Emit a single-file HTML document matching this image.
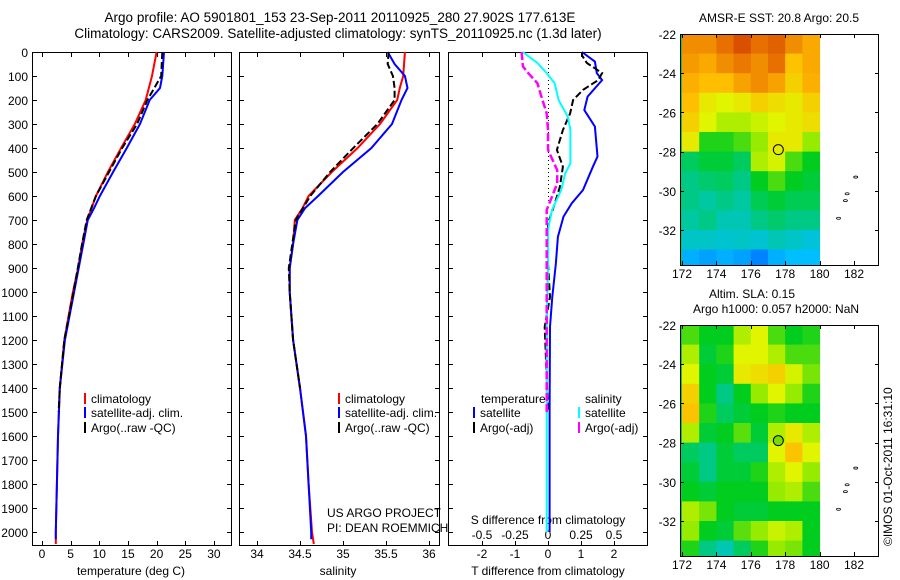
<!DOCTYPE html>
<html><head><meta charset="utf-8"><style>
html,body{margin:0;padding:0;background:#fff;}
svg{display:block;font-family:"Liberation Sans",sans-serif;}
</style></head><body>
<svg id="fig" width="900" height="580" viewBox="0 0 900 580">
<text x="340" y="22" font-size="13.5" text-anchor="middle">Argo profile: AO 5901801_153 23-Sep-2011 20110925_280 27.902S 177.613E</text>
<text x="338" y="38" font-size="13.5" text-anchor="middle">Climatology: CARS2009. Satellite-adjusted climatology: synTS_20110925.nc (1.3d later)</text>
<text x="779" y="22" font-size="12" text-anchor="middle">AMSR-E SST: 20.8 Argo: 20.5</text>
<text x="752" y="298" font-size="12" text-anchor="middle">Altim. SLA: 0.15</text>
<text x="776" y="313" font-size="12" text-anchor="middle">Argo h1000: 0.057 h2000: NaN</text>
<text transform="translate(892,546) rotate(-90)" font-size="12">©IMOS 01-Oct-2011 16:31:10</text>
<text x="131" y="575" font-size="12" text-anchor="middle">temperature (deg C)</text>
<text x="338" y="575" font-size="12" text-anchor="middle">salinity</text>
<text x="548" y="575" font-size="12" text-anchor="middle">T difference from climatology</text>
<text x="548" y="524" font-size="12" text-anchor="middle">S difference from climatology</text>
<text x="327" y="517" font-size="12">US ARGO PROJECT</text>
<text x="327" y="532" font-size="12">PI: DEAN ROEMMICH</text>
</svg>
<script>
// ---------- data ----------
const depthTicks=[0,100,200,300,400,500,600,700,800,900,1000,1100,1200,1300,1400,1500,1600,1700,1800,1900,2000];
const tempTicks=[0,5,10,15,20,25,30];
const salTicks=[34,34.5,35,35.5,36];
const salTickLabels=["34","34.5","35","35.5","36"];
const tdiffTicks=[-2,-1,0,1,2];
const sdiffTicks=[-0.5,-0.25,0,0.25,0.5];
const sdiffTickLabels=["-0.5","-0.25","0","0.25","0.5"];

const tClimDepth=[0,100,200,300,400,500,600,700,800,900,1000,1200,1400,1600,1800,2000,2050];
const tClim=[20.0,19.2,18.1,16.2,13.8,11.5,9.4,7.9,7.0,6.3,5.4,3.9,3.1,2.8,2.6,2.4,2.4];
const tSatDepth=[0,100,150,200,300,400,500,600,650,700,800,1000,1200,1400,1600,1800,2000,2030];
const tSat=[21.3,21.0,20.6,18.8,17.1,14.8,12.4,10.1,9.1,8.0,7.2,5.6,4.0,3.1,2.8,2.6,2.4,2.4];
const tArgoDepth=[0,100,200,300,400,500,600,700,800,1000,1200,1400,1500];
const tArgo=[21.0,20.8,18.4,16.6,14.0,11.7,9.4,7.8,7.0,5.5,3.9,3.1,2.9];

const sClimDepth=[0,100,150,200,300,400,500,600,650,700,800,900,1000,1200,1400,1600,1800,2000,2050];
const sClim=[35.72,35.70,35.66,35.63,35.43,35.17,34.87,34.60,34.53,34.44,34.42,34.38,34.38,34.42,34.50,34.57,34.60,34.64,34.66];
const sSatDepth=[0,50,100,150,200,300,400,500,600,650,700,800,900,1000,1200,1400,1600,1800,2000,2030];
const sSat=[35.52,35.60,35.72,35.75,35.68,35.57,35.33,35.00,34.71,34.56,34.47,34.42,34.38,34.38,34.42,34.50,34.57,34.60,34.63,34.63];
const sArgoDepth=[0,50,100,150,200,250,300,400,500,600,700,800,900,1000,1200,1400];
const sArgo=[35.53,35.52,35.58,35.60,35.60,35.50,35.40,35.12,34.85,34.62,34.45,34.41,34.37,34.38,34.42,34.50];

const dTSatDepth=[0,40,88,117,186,242,311,436,478,575,630,686,770,880,1020,1145,1500,2000];
const dTSat=[1.03,1.42,1.48,1.64,1.2,1.1,1.42,1.5,1.36,1.06,0.72,0.47,0.3,0.24,0.13,0.06,0.05,0.05];
const dTArgoDepth=[0,14,46,88,117,158,200,256,325,408,478,561,630,714,880,1020,1145,1500];
const dTArgo=[1.03,1.03,1.18,1.64,1.52,1.06,0.76,0.67,0.45,0.27,0.45,0.36,0.21,0.0,0.0,0.06,-0.1,0.0];
const dSSatDepth=[0,46,88,130,200,270,325,464,506,575,658,742,880,1145,1500,2000];
const dSSat=[-0.19,-0.08,-0.01,0.05,0.08,0.15,0.17,0.17,0.13,0.1,0.03,0.0,0.0,-0.01,-0.01,-0.01];
const dSArgoDepth=[0,60,88,130,186,256,325,408,492,547,603,658,742,1145,1500];
const dSArgo=[-0.2,-0.19,-0.15,-0.08,-0.05,-0.01,0.0,0.0,0.07,0.07,0.03,-0.01,-0.01,-0.01,-0.01];

const mapLonTicks=[172,174,176,178,180,182];
const mapLatTicks=[-22,-24,-26,-28,-30,-32];
const gridLon=[172,173,174,175,176,177,178,179];
const gridLat=[-22,-23,-24,-25,-26,-27,-28,-29,-30,-31,-32,-33];
const sstGrid=[
[0.82,0.82,0.86,0.9,0.86,0.88,0.82,0.78],
[0.8,0.78,0.82,0.85,0.82,0.86,0.74,0.78],
[0.77,0.75,0.75,0.79,0.82,0.79,0.72,0.77],
[0.75,0.68,0.66,0.68,0.72,0.7,0.68,0.72],
[0.72,0.66,0.62,0.62,0.64,0.66,0.68,0.7],
[0.68,0.52,0.52,0.55,0.6,0.68,0.68,0.6],
[0.45,0.48,0.48,0.45,0.62,0.65,0.55,0.5],
[0.42,0.44,0.45,0.42,0.5,0.55,0.5,0.48],
[0.42,0.4,0.42,0.4,0.46,0.48,0.46,0.46],
[0.4,0.42,0.38,0.38,0.42,0.44,0.42,0.42],
[0.36,0.36,0.35,0.36,0.35,0.38,0.36,0.34],
[0.28,0.26,0.28,0.26,0.22,0.28,0.3,0.3]];
const slaGrid=[
[0.55,0.5,0.5,0.62,0.66,0.55,0.5,0.52],
[0.62,0.48,0.52,0.66,0.66,0.62,0.55,0.55],
[0.66,0.5,0.48,0.68,0.7,0.72,0.65,0.58],
[0.72,0.5,0.42,0.5,0.6,0.66,0.6,0.52],
[0.74,0.52,0.45,0.48,0.5,0.52,0.5,0.5],
[0.62,0.48,0.5,0.56,0.48,0.62,0.68,0.62],
[0.45,0.42,0.48,0.45,0.45,0.66,0.74,0.66],
[0.48,0.42,0.48,0.48,0.52,0.62,0.66,0.6],
[0.5,0.48,0.5,0.5,0.5,0.6,0.62,0.55],
[0.62,0.58,0.5,0.48,0.48,0.5,0.5,0.5],
[0.6,0.5,0.48,0.56,0.6,0.64,0.62,0.5],
[0.52,0.42,0.38,0.45,0.52,0.6,0.58,0.5]];
const argoLon=177.6, argoLat=-27.9;
const islandLon=[182.1,181.6,181.5,181.1];
const islandLat=[-29.3,-30.15,-30.5,-31.4];

// ---------- helpers ----------
const svg=document.getElementById('fig');
const NS='http://www.w3.org/2000/svg';
function mk(tag,attrs,parent){const e=document.createElementNS(NS,tag);for(const k in attrs)e.setAttribute(k,attrs[k]);(parent||svg).appendChild(e);return e;}
function txt(x,y,s,size,anchor,parent){const t=mk('text',{x:x,y:y,'font-size':size,'text-anchor':anchor},parent);t.textContent=s;return t;}
const yTop=52, yPer=0.24, yBot=545;
const yD=d=>yTop+d*yPer;
const xT=v=>42+v*5.73;
const xS=v=>257+(v-34)*86;
const xDT=v=>548+v*33;
const xDS=v=>548+v*132;

function panel(x0,x1,name){
  const g=mk('g',{});
  
  
  mk('rect',{x:x0+0.5,y:yTop+0.5,width:x1-x0,height:yBot-yTop,fill:'none',stroke:'#000','stroke-width':1},g);
  depthTicks.forEach(d=>{mk('line',{x1:x0,x2:x0+5,y1:yD(d)+0.5,y2:yD(d)+0.5,stroke:'#000'},g);mk('line',{x1:x1-4,x2:x1+1,y1:yD(d)+0.5,y2:yD(d)+0.5,stroke:'#000'},g);});
  return g;
}
function xticks(g,ticks,labels,fx,ly){
  ticks.forEach((v,i)=>{const x=Math.round(fx(v))+0.5;
    mk('line',{x1:x,x2:x,y1:yTop,y2:yTop+5,stroke:'#000'},g);
    mk('line',{x1:x,x2:x,y1:yBot-4,y2:yBot+1,stroke:'#000'},g);
    if(ly)txt(fx(v),ly,labels[i],12,'middle',g);});
}
function line(g,ds,vs,fx,color,w,dash,name){
  const p=mk('polyline',{points:ds.map((d,i)=>fx(vs[i]).toFixed(1)+','+yD(d).toFixed(1)).join(' '),fill:'none',stroke:color,'stroke-width':w},g);
  if(dash)p.setAttribute('stroke-dasharray',dash);
  
  
}
function legend(g,x,y,color,label,name){
  const e=mk('g',{},g);
  
  
  mk('rect',{x:x,y:y-10,width:2,height:11,fill:color},e);
  txt(x+7,y,label,12,'start',e);
}

// ---------- panel 1: temperature ----------
const p1=panel(32,231,'temperature-panel');
depthTicks.forEach(d=>{const t=txt(28,yD(d)+5,String(d),12,'end',svg);});
xticks(p1,tempTicks,tempTicks.map(String),xT,558);
line(p1,tClimDepth,tClim,xT,'#f00',2,null,'temp-climatology-line');
line(p1,tSatDepth,tSat,xT,'#00f',2,null,'temp-satellite-line');
line(p1,tArgoDepth,tArgo,xT,'#000',2,'7,3','temp-argo-line');
legend(p1,84,403,'#f00','climatology','legend-climatology');
legend(p1,84,417,'#00f','satellite-adj. clim.','legend-satellite-adj');
legend(p1,84,432,'#000','Argo(..raw -QC)','legend-argo');

// ---------- panel 2: salinity ----------
const p2=panel(239,439,'salinity-panel');
xticks(p2,salTicks,salTickLabels,xS,558);
line(p2,sClimDepth,sClim,xS,'#f00',2,null,'sal-climatology-line');
line(p2,sSatDepth,sSat,xS,'#00f',2,null,'sal-satellite-line');
line(p2,sArgoDepth,sArgo,xS,'#000',2,'7,3','sal-argo-line');
legend(p2,338,403,'#f00','climatology','legend-climatology-2');
legend(p2,338,417,'#00f','satellite-adj. clim.','legend-satellite-adj-2');
legend(p2,338,432,'#000','Argo(..raw -QC)','legend-argo-2');

// ---------- panel 3: differences ----------
const p3=panel(448,647,'difference-panel');
xticks(p3,tdiffTicks,tdiffTicks.map(String),xDT,558);
sdiffTicks.forEach((v,i)=>{txt(xDS(v),539,sdiffTickLabels[i],12,'middle',p3);});
mk('line',{x1:548.5,x2:548.5,y1:yTop,y2:yD(620),stroke:'#000','stroke-dasharray':'1,3'},p3);
line(p3,dTSatDepth,dTSat,xDT,'#00f',2,null,'tdiff-satellite-line');
line(p3,dTArgoDepth,dTArgo,xDT,'#000',2,'7,3','tdiff-argo-line');
line(p3,dSSatDepth,dSSat,xDS,'#0ff',2,null,'sdiff-satellite-line');
line(p3,dSArgoDepth,dSArgo,xDS,'#f0f',2.5,'8,3','sdiff-argo-line');
txt(481,403,'temperature',12,'start',p3);
txt(585,403,'salinity',12,'start',p3);
legend(p3,473,417,'#00f','satellite','legend-t-satellite');
legend(p3,473,432,'#000','Argo(-adj)','legend-t-argo');
legend(p3,578,417,'#0ff','satellite','legend-s-satellite');
legend(p3,578,432,'#f0f','Argo(-adj)','legend-s-argo');

// ---------- maps ----------
function jet(v){
  const stops=[[0,[0,0,170]],[0.15,[0,80,255]],[0.3,[0,190,255]],[0.4,[0,200,160]],[0.5,[0,205,30]],[0.6,[150,235,0]],[0.66,[225,245,0]],[0.75,[255,190,0]],[0.85,[235,120,0]],[0.95,[200,40,0]],[1,[150,0,0]]];
  for(let i=1;i<stops.length;i++){if(v<=stops[i][0]){const a=stops[i-1],b=stops[i],t=(v-a[0])/(b[0]-a[0]);
    return 'rgb('+a[1].map((c,k)=>Math.round(c+(b[1][k]-c)*t)).join(',')+')';}}
  return 'rgb(150,0,0)';
}
function map(top,grid,name,circleFill){
  const g=mk('g',{});
  
  
  const left=680,right=878,bot=top+231;
  const xL=l=>682+(l-172)*17.2;
  const yL=a=>top+(-22-a)*19.6;
  grid.forEach((row,r)=>row.forEach((v,c)=>{
    const x0=xL(gridLon[c]), x1=xL(gridLon[c]+1);
    const y0=Math.max(top,yL(gridLat[r])), y1=Math.min(bot,yL(gridLat[r]-1));
    const cell=mk('rect',{x:x0.toFixed(1),y:y0.toFixed(1),width:(x1-x0+0.5).toFixed(1),height:(y1-y0+0.5).toFixed(1),fill:jet(v)},g);
    
    
  }));
  mk('rect',{x:left,y:top,width:xL(172)-left,height:bot-top,fill:jet(grid[6][0])},g);
  mk('rect',{x:left+0.5,y:top+0.5,width:right-left,height:bot-top,fill:'none',stroke:'#000'},g);
  mapLonTicks.forEach(l=>{const x=Math.round(xL(l))+0.5;mk('line',{x1:x,x2:x,y1:bot-4,y2:bot+1,stroke:'#000'},g);mk('line',{x1:x,x2:x,y1:top,y2:top+4,stroke:'#000'},g);txt(xL(l),bot+13,String(l),12,'middle',g);});
  mapLatTicks.forEach(a=>{const y=Math.round(yL(a))+0.5;mk('line',{x1:left,x2:left+4,y1:y,y2:y,stroke:'#000'},g);mk('line',{x1:right-3,x2:right+1,y1:y,y2:y,stroke:'#000'},g);txt(676,yL(a)+5,String(a),12,'end',g);});
  islandLon.forEach((l,i)=>{mk('ellipse',{cx:xL(l),cy:yL(islandLat[i]),rx:2,ry:1,fill:'none',stroke:'#000','stroke-width':0.8},g);});
  const c=mk('circle',{cx:xL(argoLon),cy:yL(argoLat),r:5,fill:circleFill,stroke:'#000','stroke-width':1},g);
  
  
}
map(34,sstGrid,'sst-map','none');
map(325,slaGrid,'sla-map','rgb(120,220,0)');
</script>
</body></html>
